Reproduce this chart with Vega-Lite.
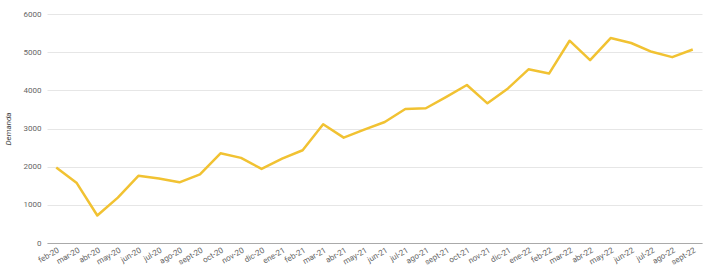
{
  "$schema": "https://vega.github.io/schema/vega-lite/v6.json",
  "autosize": {"type": "none"},
  "width": 655,
  "height": 229,
  "padding": {"left": 47, "top": 14, "right": 2, "bottom": 32},
  "background": "white",
  "config": {"view": {"stroke": null}, "font": "Roboto"},
  "data": {"values": [
    {"mes": "feb-20", "demanda": 1980},
    {"mes": "mar-20", "demanda": 1570},
    {"mes": "abr-20", "demanda": 720},
    {"mes": "may-20", "demanda": 1190},
    {"mes": "jun-20", "demanda": 1760},
    {"mes": "jul-20", "demanda": 1690},
    {"mes": "ago-20", "demanda": 1590},
    {"mes": "sept-20", "demanda": 1800},
    {"mes": "oct-20", "demanda": 2350},
    {"mes": "nov-20", "demanda": 2230},
    {"mes": "dic-20", "demanda": 1940},
    {"mes": "ene-21", "demanda": 2210},
    {"mes": "feb-21", "demanda": 2430},
    {"mes": "mar-21", "demanda": 3110},
    {"mes": "abr-21", "demanda": 2760},
    {"mes": "may-21", "demanda": 2970},
    {"mes": "jun-21", "demanda": 3170},
    {"mes": "jul-21", "demanda": 3510},
    {"mes": "ago-21", "demanda": 3530},
    {"mes": "sept-21", "demanda": 3830},
    {"mes": "oct-21", "demanda": 4140},
    {"mes": "nov-21", "demanda": 3660},
    {"mes": "dic-21", "demanda": 4050},
    {"mes": "ene-22", "demanda": 4550},
    {"mes": "feb-22", "demanda": 4440},
    {"mes": "mar-22", "demanda": 5300},
    {"mes": "abr-22", "demanda": 4790},
    {"mes": "may-22", "demanda": 5370},
    {"mes": "jun-22", "demanda": 5240},
    {"mes": "jul-22", "demanda": 5010},
    {"mes": "ago-22", "demanda": 4870},
    {"mes": "sept-22", "demanda": 5070}
  ]},
  "mark": {"type": "line", "color": "#f1c232", "strokeWidth": 2.5, "strokeJoin": "round"},
  "encoding": {
    "x": {
      "field": "mes", "type": "ordinal", "sort": null,
      "scale": {"type": "point", "padding": 0.45},
      "axis": {
        "title": null, "labelAngle": -30, "labelAlign": "right", "labelBaseline": "top",
        "labelFontSize": 8, "labelColor": "#666", "ticks": false, "labelPadding": 3,
        "domainColor": "#aaa", "domainWidth": 1.2, "grid": false
      }
    },
    "y": {
      "field": "demanda", "type": "quantitative",
      "scale": {"domain": [0, 6000], "nice": false},
      "axis": {
        "title": "Demanda", "titleFontStyle": "italic", "titleFontWeight": "normal",
        "titleFontSize": 8, "titleColor": "#444", "titlePadding": 11,
        "values": [0, 1000, 2000, 3000, 4000, 5000, 6000], "format": "d",
        "labelFontSize": 8, "labelColor": "#666", "labelPadding": 6,
        "ticks": false, "domain": false, "gridColor": "#e6e6e6", "gridWidth": 1
      }
    }
  }
}
